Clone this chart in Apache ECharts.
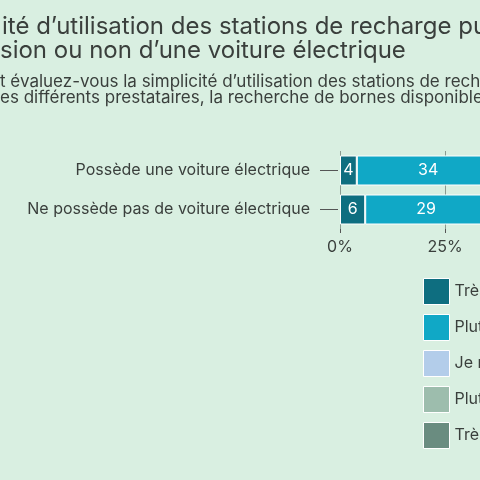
<!DOCTYPE html>
<html><head><meta charset="utf-8">
<script src="https://cdn.jsdelivr.net/npm/echarts@6/dist/echarts.min.js"></script>
<style>html,body{margin:0;padding:0;background:#d9efe1;overflow:hidden;width:480px;height:480px}#c{width:900px;height:480px}</style>
</head><body><div id="c"></div>
<script>
const categories = ["Ne possède pas de voiture électrique", "Possède une voiture électrique"];
const seriesNames = ["Très simple", "Plutôt simple", "Je ne sais pas", "Plutôt compliqué", "Très compliqué"];
const tresSimple = [6, 4];
const plutotSimple = [29, 34];
const neSaisPas = [20, 10];
const plutotCompl = [30, 35];
const tresCompl = [15, 17];
const colors = ["#0e6e80", "#10a8c6", "#b3cdea", "#9dbdad", "#6a8c80"];
const tickLabels = ["0%", "25%", "50%", "75%", "100%"];
const vals = [tresSimple, plutotSimple, neSaisPas, plutotCompl, tresCompl];
const F = "Inter, 'Noto Sans', sans-serif";
const chart = echarts.init(document.getElementById('c'));
chart.setOption({
  backgroundColor: "#d9efe1",
  textStyle: {fontFamily: F},
  graphic: [
    {type:"text", left:2, top:15, style:{text:"ité d’utilisation des stations de recharge publiques", font:"24px "+F, fill:"#3a3f3c"}},
    {type:"text", left:0, top:39, style:{text:"sion ou non d’une voiture électrique", font:"24px "+F, fill:"#3a3f3c"}},
    {type:"text", left:0, top:73, style:{text:"t évaluez-vous la simplicité d’utilisation des stations de recharge", font:"17px "+F, fill:"#3a3f3c"}},
    {type:"text", left:0, top:89, style:{text:"es différents prestataires, la recherche de bornes disponibles", font:"17px "+F, fill:"#3a3f3c"}}
  ],
  legend: {orient:"vertical", left:418, top:273, itemWidth:26, itemHeight:26, itemGap:9,
    icon:"rect", data: seriesNames, textStyle:{fontSize:16, color:"#3a3f3c", fontFamily:F},
    itemStyle:{borderColor:"#ffffff", borderWidth:1}},
  grid: {left:340, top:151, width:420, height:78},
  xAxis: {type:"value", min:0, max:100, interval:25,
    axisLabel:{formatter: v => tickLabels[v/25], fontSize:16, color:"#3a3f3c", margin:10},
    axisLine:{show:false}, axisTick:{show:true, length:4, lineStyle:{color:"#555"}},
    splitLine:{show:true, lineStyle:{color:"#8a9a90", width:1}}},
  yAxis: {type:"category", data:categories,
    axisLine:{show:false}, axisTick:{show:false},
    axisLabel:{fontSize:16, color:"#3a3f3c", margin:30}},
  series: vals.map((v,i)=>({
    name: seriesNames[i], type:"bar", stack:"s", data:v, barWidth:30,
    itemStyle:{color:colors[i], borderColor:"#ffffff", borderWidth:1},
    label:{show:true, color:"#ffffff", fontSize:16, fontFamily:F}
  })).concat([{
    type:"custom", silent:true, data:[0,1],
    renderItem:(p,api)=>{ const pt=api.coord([0,api.value(0)]);
      return {type:"line", shape:{x1:pt[0]-20,y1:pt[1],x2:pt[0]-2,y2:pt[1]}, style:{stroke:"#555",lineWidth:1}}; },
    encode:{y:0}
  }])
});
</script></body></html>
